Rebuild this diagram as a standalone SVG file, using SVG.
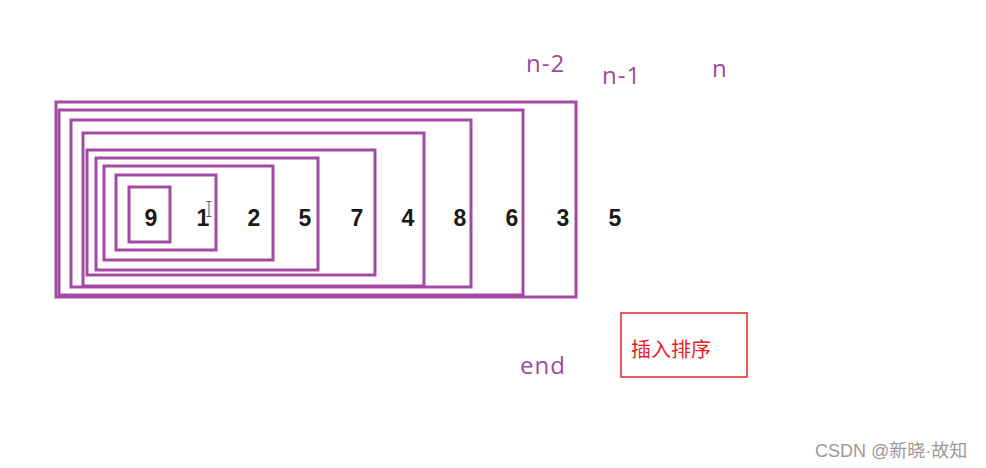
<svg xmlns="http://www.w3.org/2000/svg" width="986" height="468" viewBox="0 0 986 468">
<style>
.box{fill:none;stroke:#a34aa3;stroke-width:3}
.num{font-family:"Liberation Sans",Arial,sans-serif;font-weight:bold;font-size:23px;fill:#1a1a1a;text-anchor:middle}
.lbl{font-family:"Open Sans","Liberation Sans",sans-serif;font-size:24px;letter-spacing:1px;fill:#9a4c9c}
</style>
<rect width="986" height="468" fill="#ffffff"/>
<g id="boxes">
<rect id="r1" class="box" x="56" y="102" width="520" height="195"/>
<rect id="r2" class="box" x="59" y="110" width="464" height="185"/>
<rect id="r3" class="box" x="71" y="120" width="400" height="167"/>
<rect id="r4" class="box" x="83" y="133" width="341" height="153"/>
<rect id="r5" class="box" x="87" y="150" width="288" height="125"/>
<rect id="r6" class="box" x="96" y="158" width="222" height="112"/>
<rect id="r7" class="box" x="104" y="166" width="169" height="94"/>
<rect id="r8" class="box" x="116" y="175" width="100" height="75"/>
<rect id="r9" class="box" x="129" y="187" width="41" height="55"/>
</g>
<g id="numbers">
<text class="num" x="151" y="226">9</text>
<text class="num" x="203" y="226">1</text>
<text class="num" x="254" y="226">2</text>
<text class="num" x="305" y="226">5</text>
<text class="num" x="357" y="226">7</text>
<text class="num" x="408" y="226">4</text>
<text class="num" x="460" y="226">8</text>
<text class="num" x="512" y="226">6</text>
<text class="num" x="563" y="226">3</text>
<text class="num" x="615" y="226">5</text>
</g>
<g id="cursor" stroke="#555" stroke-width="1" fill="none">
<path d="M209 202v14M206.5 201.5h5M206.5 216.5h5"/>
</g>
<g id="labels">
<text class="lbl" x="526" y="72">n-2</text>
<text class="lbl" x="602" y="84">n-1</text>
<text class="lbl" x="712" y="77">n</text>
<text class="lbl" x="520" y="374">end</text>
</g>
<g id="note">
<rect x="621" y="313" width="126" height="64" fill="none" stroke="#e8202a" stroke-width="1.5"/>
<text x="631" y="357" font-family="'Noto Sans CJK SC',sans-serif" font-size="20" fill="#e8202a">插入排序</text>
</g>
<text x="815" y="457" font-family="'Liberation Sans','Noto Sans CJK SC',sans-serif" font-size="18" fill="#9a9a9a">CSDN @新晓·故知</text>
</svg>
